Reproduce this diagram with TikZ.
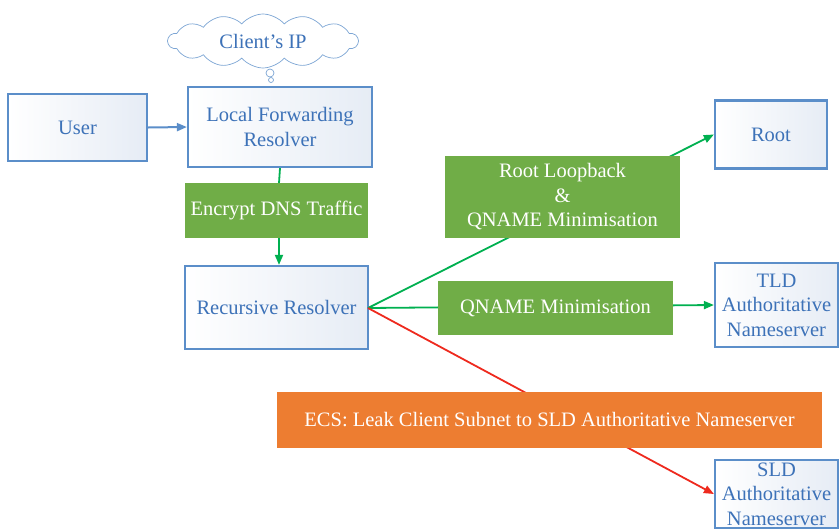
\documentclass[tikz,border=0pt]{standalone}
\usepackage{fontspec}
\setmainfont{Liberation Serif}
\usetikzlibrary{arrows.meta,shapes.symbols}
\definecolor{boxblue}{HTML}{5B8EC9}
\definecolor{txtblue}{HTML}{3D72B8}
\definecolor{gfill}{HTML}{70AD47}
\definecolor{gline}{HTML}{00B050}
\definecolor{rline}{HTML}{EE2A1E}
\definecolor{ofill}{HTML}{ED7D31}
\definecolor{shadeblue}{HTML}{E6ECF5}
\begin{document}
\begin{tikzpicture}[x=1pt,y=-1pt,
  every node/.style={font=\fontsize{20.5}{24.5}\selectfont, align=center, inner sep=0pt},
  bluebox/.style={draw=boxblue, line width=2.2pt, left color=white, right color=shadeblue, text=txtblue},
  greenbox/.style={fill=gfill, text=white},
  orangebox/.style={fill=ofill, text=white},
  garrow/.style={draw=gline, line width=1.8pt, -{Triangle[length=10pt,width=8pt]}},
  gplain/.style={draw=gline, line width=1.8pt},
  rarrow/.style={draw=rline, line width=1.8pt, -{Triangle[length=10pt,width=8pt]}},
  barrow/.style={draw=boxblue, line width=2pt, -{Triangle[length=10pt,width=8pt]}}
]
\useasboundingbox (0,0) rectangle (839,531);

% cloud
\node[cloud, cloud puffs=14, cloud puff arc=100, aspect=3.6, draw=boxblue!80, line width=0.7pt, fill=white,
      minimum width=190pt, minimum height=54pt, text=txtblue] (cloud) at (263,41) {Client{\char"0027}s IP};
\node[circle, draw=boxblue!80, line width=0.7pt, fill=white, minimum size=8pt] (b1) at (270,73) {};
\node[circle, draw=boxblue!80, line width=0.7pt, fill=white, minimum size=5pt] (b2) at (271,80) {};

% boxes
\node[bluebox, minimum width=139pt, minimum height=67pt] (user) at (77.5,127.5) {User};
\node[bluebox, minimum width=184pt, minimum height=80pt] (lfr) at (280,127) {Local Forwarding\\Resolver};
\node[bluebox, minimum width=183pt, minimum height=83pt] (rr) at (276.5,307.5) {Recursive Resolver};
\node[bluebox, minimum width=112pt, minimum height=68pt] (root) at (771,134.5) {Root};
\node[bluebox, minimum width=123pt, minimum height=84pt] (tld) at (776.5,305) {TLD\\Authoritative\\Nameserver};
\node[bluebox, minimum width=123pt, minimum height=68pt] (sld) at (776.5,494) {SLD\\Authoritative\\Nameserver};

\coordinate (j) at (368,308);

% connectors behind labels
\draw[barrow] (user.east) -- (lfr.west);
\draw[gplain] (lfr.south) -- (279,183);
\draw[garrow] (279,238) -- (rr.north -| 279,0);
\draw[garrow] (j) -- (root.west);
\draw[garrow] (j) -- (tld.west);
\draw[rarrow] (j) -- (sld.west);

% label boxes
\node[greenbox, minimum width=183pt, minimum height=55pt] (enc) at (276.5,210.5) {Encrypt DNS Traffic};
\node[greenbox, minimum width=235pt, minimum height=82pt] (rlq) at (562.5,197) {Root Loopback\\\&\\QNAME Minimisation};
\node[greenbox, minimum width=235pt, minimum height=54pt] (qm) at (555.5,308) {QNAME Minimisation};
\node[orangebox, minimum width=545pt, minimum height=56pt] (ecs) at (549.5,420) {ECS: Leak Client Subnet to SLD Authoritative Nameserver};
\end{tikzpicture}
\end{document}
